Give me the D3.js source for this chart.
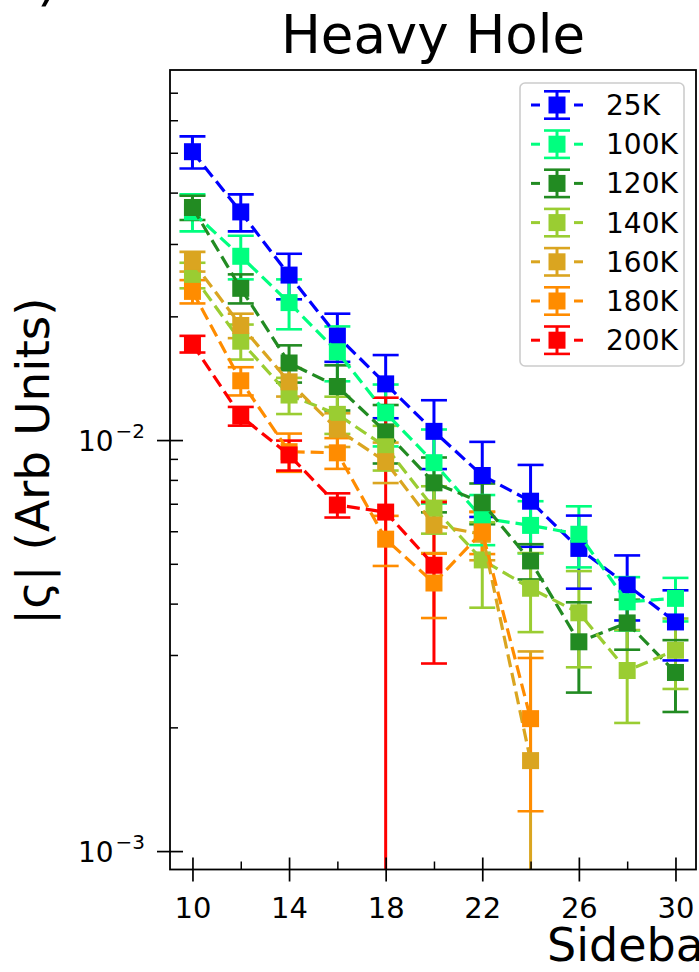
<!DOCTYPE html>
<html><head><meta charset="utf-8">
<script src="https://cdn.jsdelivr.net/npm/d3@7"></script>
<style>
body{margin:0;background:#fff;}
svg{display:block;font-family:"DejaVu Sans",sans-serif;}
</style>
</head><body>
<svg id="c" width="699" height="972"></svg>
<script>
// ---- data ----
const sidebands = [10, 12, 14, 16, 18, 20, 22, 24, 26, 28, 30];
const temperatures = ["25K", "100K", "120K", "140K", "160K", "180K", "200K"];
const seriesColors = ["#0000ff", "#00ff7f", "#228b22", "#9acd32", "#daa520", "#ff8c00", "#ff0000"];

const vals25K  = [0.0503, 0.0359, 0.0252, 0.0179, 0.0137, 0.0105, 0.0082, 0.0071, 0.00545, 0.00444, 0.00361];
const err25K   = [0.0045, 0.0037, 0.0032, 0.0024, 0.0024, 0.0020, 0.0017, 0.0016, 0.0011, 0.0008, 0.0007];
const vals100K = [0.0359, 0.0280, 0.0216, 0.0164, 0.01165, 0.00881, 0.00645, 0.0062, 0.0059, 0.00404, 0.00412];
const err100K  = [0.0037, 0.0034, 0.0030, 0.0025, 0.0020, 0.0018, 0.0009, 0.0009, 0.0010, 0.0006, 0.0005];
const vals120K = [0.0368, 0.0234, 0.0154, 0.0135, 0.01047, 0.00787, 0.00704, 0.00508, 0.00323, 0.00359, 0.00272];
const err120K  = [0.0025, 0.0019, 0.0016, 0.0017, 0.0017, 0.0012, 0.0008, 0.0005, 0.0008, 0.0005, 0.00054];
const vals140K = [0.0252, 0.0174, 0.01287, 0.01155, 0.00963, 0.00682, 0.00511, 0.00436, 0.0038, 0.00275, 0.00308];
const err140K  = [0.0018, 0.0017, 0.0013, 0.0012, 0.0012, 0.0009, 0.0012, 0.00095, 0.0010, 0.0007, 0.0006];
const vals160K = [0.0272, 0.0190, 0.01386, 0.01062, 0.00886, 0.00621, 0.0059, 0.00166];
const err160K  = [0.0015, 0.0013, 0.0011, 0.0010, 0.0010, 0.0009, 0.0008, 0.0014];
const vals180K = [0.0230, 0.01394, 0.00937, 0.00931, 0.00574, 0.00449, 0.00598, 0.0021];
const err180K  = [0.0015, 0.0011, 0.0010, 0.0008, 0.0008, 0.0008, 0.0007, 0.00085];
const vals200K = [0.01713, 0.01144, 0.0092, 0.00695, 0.00668, 0.00496];
const err200K  = [0.0008, 0.0006, 0.00077, 0.00047, 0.0060, 0.0021];

const xMajorTicks = [10, 14, 18, 22, 26, 30];
const xMinorTicks = [12, 16, 20, 24, 28];
const yMajorTicks = [1e-3, 1e-2];
const yMajorLabels = ["\u22123", "\u22122"];
const yMinorTicks = [2e-3, 3e-3, 4e-3, 5e-3, 6e-3, 7e-3, 8e-3, 9e-3, 2e-2, 3e-2, 4e-2, 5e-2, 6e-2, 7e-2];

const titleText = "Heavy Hole";
const yLabelText = "|\u03c2| (Arb Units)";
const xLabelText = "Sideband Order";
const panelText = "(b)";

// ---- build ----
const valueLists = [vals25K, vals100K, vals120K, vals140K, vals160K, vals180K, vals200K];
const errorLists = [err25K, err100K, err120K, err140K, err160K, err180K, err200K];
const series = temperatures.map((t, i) => ({
  name: t, color: seriesColors[i],
  points: valueLists[i].map((v, j) => ({x: sidebands[j], v: v, e: errorLists[i][j]}))
}));

const M = {left: 170, top: 70, right: 696, bottom: 869.5};
const x = d3.scaleLinear().domain([9.07, 30.85]).range([M.left, M.right]);
const y = d3.scaleLog().domain([9.02e-4, 0.0795]).range([M.bottom, M.top]);

const svg = d3.select("#c");
svg.append("rect").attr("width", 699).attr("height", 972).attr("fill", "#fff");
svg.append("defs").append("clipPath").attr("id", "clip")
  .append("rect").attr("x", M.left).attr("y", M.top)
  .attr("width", M.right - M.left).attr("height", M.bottom - M.top);

const plot = svg.append("g").attr("clip-path", "url(#clip)");
const barsG = plot.append("g");
const capsG = plot.append("g");
const linesG = plot.append("g");
const CAP = 13;
const yLow = d => (d.v - d.e) > 0 ? y(d.v - d.e) : M.bottom + 20;

series.forEach(s => {
  barsG.selectAll(null).data(s.points).join("line")
    .attr("x1", d => x(d.x)).attr("x2", d => x(d.x))
    .attr("y1", d => y(d.v + d.e)).attr("y2", d => Math.min(yLow(d), M.bottom + 20))
    .attr("stroke", s.color).attr("stroke-width", 3);
  ["hi", "lo"].forEach(k => {
    capsG.selectAll(null).data(s.points).join("line")
      .attr("x1", d => x(d.x) - CAP).attr("x2", d => x(d.x) + CAP)
      .attr("y1", d => k === "hi" ? y(d.v + d.e) : yLow(d))
      .attr("y2", d => k === "hi" ? y(d.v + d.e) : yLow(d))
      .attr("stroke", s.color).attr("stroke-width", 2.6);
  });
});

const lineGen = d3.line().x(d => x(d.x)).y(d => y(d.v));
series.forEach(s => {
  const g = linesG.append("g");
  g.append("path").attr("d", lineGen(s.points)).attr("fill", "none")
    .attr("stroke", s.color).attr("stroke-width", 3.2).attr("stroke-dasharray", "13,6");
  g.selectAll("rect").data(s.points).join("rect")
    .attr("x", d => x(d.x) - 8.5).attr("y", d => y(d.v) - 8.5)
    .attr("width", 17).attr("height", 17).attr("fill", s.color);
});

// ---- axes ----
const fsTick = 29;
const xAxis = svg.append("g").attr("transform", `translate(0,${M.bottom})`)
  .call(d3.axisBottom(x).tickValues(xMajorTicks).tickSize(12).tickPadding(16).tickFormat(d3.format("d")));
xAxis.select(".domain").remove();
xAxis.selectAll(".tick line").attr("y1", -12).attr("stroke", "#000").attr("stroke-width", 1.7);
xAxis.selectAll(".tick text").attr("font-size", fsTick).attr("font-family", "DejaVu Sans").attr("fill", "#000");

const xMinor = svg.append("g").attr("transform", `translate(0,${M.bottom})`)
  .call(d3.axisBottom(x).tickValues(xMinorTicks).tickSize(-8).tickFormat(""));
xMinor.select(".domain").remove();
xMinor.selectAll(".tick line").attr("stroke", "#000").attr("stroke-width", 1.5);

const yAxis = svg.append("g").attr("transform", `translate(${M.left},0)`)
  .call(d3.axisLeft(y).tickValues(yMajorTicks).tickSize(13).tickPadding(12).tickFormat(() => ""));
yAxis.select(".domain").remove();
yAxis.selectAll(".tick line").attr("x1", 13).attr("stroke", "#000").attr("stroke-width", 1.7);
yAxis.selectAll(".tick text").each(function(d, i) {
  const t = d3.select(this).attr("font-size", 28).attr("font-family", "DejaVu Sans")
    .attr("fill", "#000").attr("dy", "0.36em");
  t.append("tspan").text("10");
  t.append("tspan").attr("font-size", 20).attr("dy", -13).attr("dx", 2).text(yMajorLabels[i]);
});

const yMinor = svg.append("g").attr("transform", `translate(${M.left},0)`)
  .call(d3.axisLeft(y).tickValues(yMinorTicks).tickSize(-8).tickFormat(""));
yMinor.select(".domain").remove();
yMinor.selectAll(".tick line").attr("stroke", "#000").attr("stroke-width", 1.5);

// frame
svg.append("rect").attr("x", M.left).attr("y", M.top)
  .attr("width", M.right - M.left).attr("height", M.bottom - M.top)
  .attr("fill", "none").attr("stroke", "#000").attr("stroke-width", 1.8);

// ---- legend ----
const leg = svg.append("g");
leg.append("rect").attr("x", 520).attr("y", 83).attr("width", 164).attr("height", 283)
  .attr("rx", 5).attr("fill", "#fff").attr("fill-opacity", 0.8)
  .attr("stroke", "#cccccc").attr("stroke-width", 1.6);
series.forEach((s, i) => {
  const cy = 105 + i * 39.2;
  const g = leg.append("g");
  g.append("line").attr("x1", 531).attr("x2", 540).attr("y1", cy).attr("y2", cy).attr("stroke", s.color).attr("stroke-width", 3);
  g.append("line").attr("x1", 574).attr("x2", 583).attr("y1", cy).attr("y2", cy).attr("stroke", s.color).attr("stroke-width", 3);
  g.append("line").attr("x1", 557).attr("x2", 557).attr("y1", cy - 13.7).attr("y2", cy + 13.7).attr("stroke", s.color).attr("stroke-width", 3);
  [-13.7, 13.7].forEach(o => g.append("line").attr("x1", 544).attr("x2", 570).attr("y1", cy + o).attr("y2", cy + o).attr("stroke", s.color).attr("stroke-width", 2.6));
  g.append("rect").attr("x", 548.5).attr("y", cy - 8.5).attr("width", 17).attr("height", 17).attr("fill", s.color);
  g.append("text").attr("x", 606).attr("y", cy + 10).attr("font-size", 28).attr("fill", "#000").text(s.name);
});

// ---- texts ----
svg.append("text").attr("x", (M.left + M.right) / 2).attr("y", 53).attr("text-anchor", "middle")
  .attr("font-size", 53).attr("fill", "#000").text(titleText);
svg.append("text").attr("transform", "translate(49,461) rotate(-90)")
  .attr("text-anchor", "middle").attr("font-size", 47).attr("fill", "#000").text(yLabelText);
svg.append("text").attr("x", 547).attr("y", 961).attr("font-size", 46).attr("fill", "#000").text(xLabelText);
svg.append("text").attr("x", 58).attr("y", 0).attr("text-anchor", "end").attr("font-size", 54).attr("fill", "#000").text(panelText);
</script>
</body></html>
